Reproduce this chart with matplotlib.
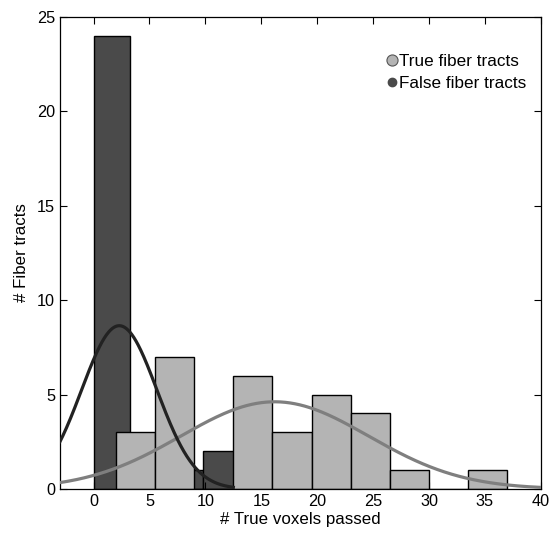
import numpy as np
import matplotlib
matplotlib.use("Agg")
import matplotlib.pyplot as plt
from matplotlib.lines import Line2D

plt.rcParams['font.family'] = ['Liberation Sans', 'DejaVu Sans']

# Data
true_bin_left = [2, 5.5, 9, 12.5, 16, 19.5, 23, 26.5, 30, 33.5]
true_bin_width = 3.5
true_counts = [3, 7, 0, 6, 3, 5, 4, 1, 0, 1]

false_bin_left = [0, 3.25, 6.5, 9.75]
false_bin_width = 3.25
false_counts = [24, 0, 1, 2]

# fitted normal curves (mean, sigma, peak height)
true_fit = (16.2, 8.4, 4.62)
false_fit = (2.3, 3.37, 8.65)
true_fit_range = (-3, 40)
false_fit_range = (-3, 12.5)

x_ticks = [0, 5, 10, 15, 20, 25, 30, 35, 40]
y_ticks = [0, 5, 10, 15, 20, 25]

fig = plt.figure(figsize=(5.53, 5.34), dpi=100)
ax = fig.add_axes([0.1085, 0.0843, 0.8695, 0.8837])

dark = '#4a4a4a'
light = '#b4b4b4'

ax.bar(false_bin_left, false_counts, width=false_bin_width, align='edge',
       color=dark, edgecolor='black', linewidth=1.0, zorder=1)
ax.bar(true_bin_left, true_counts, width=true_bin_width, align='edge',
       color=light, edgecolor='black', linewidth=1.0, zorder=2)

def gauss(rng, fit):
    mu, sd, pk = fit
    xs = np.linspace(rng[0], rng[1], 400)
    return xs, pk * np.exp(-0.5 * ((xs - mu) / sd) ** 2)

xs, ys = gauss(true_fit_range, true_fit)
ax.plot(xs, ys, color='#7f7f7f', lw=2.3, zorder=3)
xs, ys = gauss(false_fit_range, false_fit)
ax.plot(xs, ys, color='#222222', lw=2.3, zorder=4)

ax.set_xlim(-3, 40)
ax.set_ylim(0, 25)
ax.set_xticks(x_ticks)
ax.set_yticks(y_ticks)
ax.tick_params(direction='in', top=True, right=True, length=5, labelsize=11.7,
               width=0.8)
for s in ax.spines.values():
    s.set_linewidth(0.9)

ax.set_xlabel('# True voxels passed', fontsize=12.2, labelpad=2)
ax.set_ylabel('# Fiber tracts', fontsize=12.2, labelpad=6)

handles = [
    Line2D([], [], marker='o', ls='none', markersize=8, markerfacecolor=light,
           markeredgecolor='#555555', markeredgewidth=0.8),
    Line2D([], [], marker='o', ls='none', markersize=6, markerfacecolor=dark,
           markeredgecolor=dark),
]
ax.legend(handles, ['True fiber tracts', 'False fiber tracts'], loc='upper right',
          bbox_to_anchor=(0.983, 0.937), frameon=False, fontsize=12.3,
          handletextpad=0.15, handlelength=0.5, borderaxespad=0.0,
          labelspacing=0.45)

fig.savefig('out.png', dpi=100)
